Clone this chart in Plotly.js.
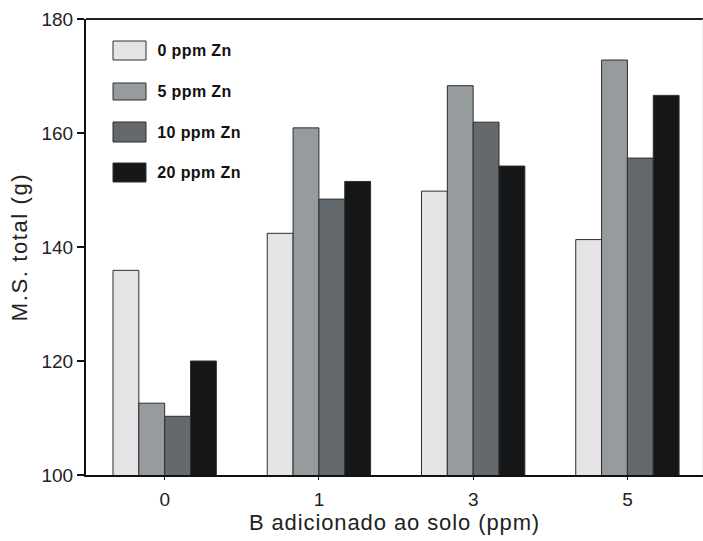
<!DOCTYPE html>
<html>
<head>
<meta charset="utf-8">
<script src="https://cdn.plot.ly/plotly-3.0.1.min.js"></script>
<style>
html,body{margin:0;padding:0;background:#fff;}
#chart{width:703px;height:541px;}
#chart text.xtitle{letter-spacing:0.9px;}
#chart text.ytitle{letter-spacing:1.6px;}
#chart .annotation-text{letter-spacing:0.4px;}
</style>
</head>
<body>
<div id="chart"></div>
<script>
const categories = ['0', '1', '3', '5'];
const seriesNames = ['0 ppm Zn', '5 ppm Zn', '10 ppm Zn', '20 ppm Zn'];
const zn0  = [135.9, 142.4, 149.8, 141.3];
const zn5  = [112.6, 160.9, 168.3, 172.8];
const zn10 = [110.3, 148.4, 161.9, 155.6];
const zn20 = [120.0, 151.5, 154.2, 166.6];
const yTicks = [100, 120, 140, 160, 180];
const colors = ['#e4e4e6', '#969c9e', '#63696c', '#151618'];

const seriesValues = [zn0, zn5, zn10, zn20];
const traces = seriesValues.map((vals, i) => ({
  type: 'bar',
  x: categories,
  y: vals,
  name: seriesNames[i],
  marker: {color: colors[i], line: {color: '#2e2e2e', width: 1}},
  showlegend: false,
  hoverinfo: 'x+y+name'
}));

const W = 703, H = 541;
const L = 86, R = 703, T = 19, B = 475;
const px = v => (v - L) / (R - L);
const py = v => (B - v) / (B - T);

const shapes = [];
const annotations = [];
const legendBoxes = [[41, 60], [83, 100], [122, 142], [163, 182]];
seriesNames.forEach((name, i) => {
  const [y0, y1] = legendBoxes[i];
  shapes.push({type: 'rect', xref: 'paper', yref: 'paper',
    x0: px(113), x1: px(146), y0: py(y1), y1: py(y0),
    fillcolor: colors[i], line: {color: '#2e2e2e', width: 1}});
  annotations.push({xref: 'paper', yref: 'paper', x: px(157), y: py((y0 + y1) / 2),
    xanchor: 'left', yanchor: 'middle', showarrow: false, text: '<b>' + name + '</b>',
    font: {family: '"Liberation Sans", Arial, sans-serif', size: 16, color: '#111'}});
});
// top border (dark) and right border (faint)
shapes.push({type: 'line', xref: 'paper', yref: 'paper', x0: 0, x1: 1, y0: 1, y1: 1, line: {color: '#222', width: 2}});
shapes.push({type: 'line', xref: 'paper', yref: 'paper', x0: 1, x1: 1, y0: 0, y1: 1, line: {color: '#dddddd', width: 1}});

const font = {family: '"Liberation Sans", Arial, sans-serif', size: 19, color: '#222'};

const layout = {
  width: W, height: H,
  margin: {l: L, r: W - R, t: T, b: H - B, pad: 0},
  paper_bgcolor: '#fff', plot_bgcolor: '#fff',
  barmode: 'group', bargap: 0.33, bargroupgap: 0,
  font: font,
  xaxis: {
    type: 'category', range: [-0.51, 3.49],
    showline: true, linecolor: '#111', linewidth: 2,
    ticks: 'outside', ticklen: 3, tickcolor: '#111', tickwidth: 1,
    ticklabelstandoff: 3,
    showgrid: false, zeroline: false,
    tickfont: font,
    title: {text: 'B adicionado ao solo (ppm)', font: {family: font.family, size: 22, color: '#222'}, standoff: 6}
  },
  yaxis: {
    range: [100, 180], tickvals: yTicks, ticktext: yTicks.map(String),
    showline: true, linecolor: '#111', linewidth: 2,
    ticks: 'outside', ticklen: 7, tickcolor: '#111', tickwidth: 1.5,
    showgrid: false, zeroline: false,
    tickfont: font,
    title: {text: 'M.S. total (g)', font: {family: font.family, size: 22, color: '#222'}, standoff: 8}
  },
  shapes: shapes,
  annotations: annotations
};

Plotly.newPlot('chart', traces, layout, {displayModeBar: false, staticPlot: true});
</script>
</body>
</html>
